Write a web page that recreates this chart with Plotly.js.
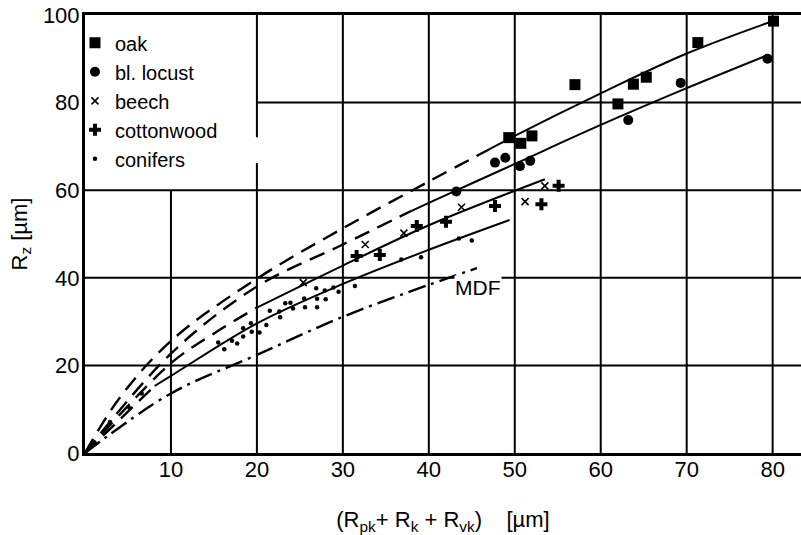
<!DOCTYPE html>
<html>
<head>
<meta charset="utf-8">
<script src="https://cdn.plot.ly/plotly-3.0.1.min.js"></script>
<style>html,body{margin:0;padding:0;background:#fff}#chart{width:801px;height:535px}</style>
</head>
<body>
<div id="chart"></div>
<script>
// ---- measured points ----
const oakX = [49.3, 50.7, 52.0, 57.0, 62.0, 63.8, 65.3, 71.3, 80.1];
const oakY = [72.0, 70.7, 72.4, 84.1, 79.7, 84.2, 85.8, 93.7, 98.6];

const locustX = [43.2, 47.7, 48.9, 50.6, 51.8, 63.2, 69.3, 79.4];
const locustY = [59.7, 66.3, 67.4, 65.5, 66.7, 76.0, 84.5, 90.0];

const beechX = [25.4, 32.6, 37.1, 43.8, 51.2, 53.5];
const beechY = [38.9, 47.6, 50.2, 56.1, 57.4, 61.0];

const cottonX = [31.6, 34.3, 38.6, 42.0, 47.7, 53.1, 55.1];
const cottonY = [45.0, 45.2, 51.8, 52.8, 56.4, 56.8, 61.0];

const conifX = [2.9, 5.2, 6.6, 15.5, 16.2, 17.1, 17.7, 18.4, 18.4, 19.3, 19.4, 20.3, 21.1, 21.5, 22.6, 22.7, 23.3, 23.9, 24.2, 25.5, 25.6, 26.9, 27.0, 27.0, 27.9, 28.0, 28.9, 29.5, 31.4, 36.8, 39.1, 43.5, 45.0];
const conifY = [7.1, 10.2, 13.6, 25.2, 23.7, 25.6, 25.0, 28.5, 26.6, 29.6, 27.7, 27.5, 29.2, 32.5, 32.3, 31.0, 34.2, 34.3, 33.0, 35.3, 33.3, 37.6, 35.2, 33.3, 37.1, 35.1, 37.8, 36.8, 38.1, 44.2, 44.7, 49.0, 48.5];

// ---- fitted curves ----
const oakFitDashX = [0, 4, 10, 20, 30, 40, 47];
const oakFitDashY = [0, 12.5, 25.6, 39.8, 51.3, 62.0, 69.3];
const oakFitX = [47, 50, 60, 70, 80];
const oakFitY = [69.3, 72.4, 82.1, 91.2, 98.6];

const locustFitDashX = [0, 10, 20, 30, 38];
const locustFitDashY = [0, 22.7, 38.0, 47.6, 55.3];
const locustFitX = [38, 40, 50, 60, 70, 79.5];
const locustFitY = [55.3, 57.1, 66.0, 74.9, 83.3, 90.9];

const bcFitDashX = [0, 10, 15, 20];
const bcFitDashY = [0, 20.5, 27.3, 33.2];
const bcFitX = [20, 30, 40, 53.5];
const bcFitY = [33.2, 42.8, 52.0, 62.5];

const conifFitDashX = [0, 8.1];
const conifFitDashY = [0, 15.3];
const conifFitX = [8.1, 10, 20, 30, 40, 49.4];
const conifFitY = [15.3, 17.6, 29.6, 38.6, 46.4, 53.2];

const mdfFitX = [0, 10, 20, 30, 40, 45.6];
const mdfFitY = [0, 13.6, 22.4, 31.1, 38.4, 42.2];

const mdfLabel = {text: 'MDF', x: 45.7, y: 37.9};

const xTicks = [10, 20, 30, 40, 50, 60, 70, 80];
const yTicks = [0, 20, 40, 60, 80, 100];
const names = ['oak', 'bl. locust', 'beech', 'cottonwood', 'conifers'];

const FONT = 'Liberation Sans, Arial, Helvetica, sans-serif';
const XMAX = 83.3;

function fit(x, y, dash, w) {
  return {x: x, y: y, mode: 'lines', showlegend: false, hoverinfo: 'skip',
    line: {color: '#000', width: w, dash: dash, shape: 'spline', smoothing: 1}};
}
const DASH = '16px,9px';
const traces = [
  fit(oakFitDashX, oakFitDashY, DASH, 2.4),
  fit(oakFitX, oakFitY, 'solid', 2),
  fit(locustFitDashX, locustFitDashY, DASH, 2.4),
  fit(locustFitX, locustFitY, 'solid', 2),
  fit(bcFitDashX, bcFitDashY, DASH, 2.4),
  fit(bcFitX, bcFitY, 'solid', 2),
  fit(conifFitDashX, conifFitDashY, DASH, 2.4),
  fit(conifFitX, conifFitY, 'solid', 2),
  fit(mdfFitX, mdfFitY, '18px,6px,3px,6px', 2.4),
  {x: oakX, y: oakY, name: names[0], mode: 'markers', marker: {symbol: 'square', size: 11, color: '#000'}},
  {x: locustX, y: locustY, name: names[1], mode: 'markers', marker: {symbol: 'circle', size: 10, color: '#000'}},
  {x: beechX, y: beechY, name: names[2], mode: 'markers', marker: {symbol: 'x-thin', size: 7, color: '#000', line: {color: '#000', width: 1.6}}},
  {x: cottonX, y: cottonY, name: names[3], mode: 'markers', marker: {symbol: 'cross', size: 10, color: '#000'}},
  {x: conifX, y: conifY, name: names[4], mode: 'markers', marker: {symbol: 'circle', size: 4.5, color: '#000'}}
];

// grid drawn as shapes (some lines are partially hidden behind the legend)
const shapes = [];
const gl = {color: '#000', width: 2};
xTicks.forEach(function (v) {
  if (v === 10) {
    shapes.push({type: 'line', layer: 'below', x0: v, x1: v, y0: 0, y1: 60, line: gl});
  } else if (v === 20) {
    shapes.push({type: 'line', layer: 'below', x0: v, x1: v, y0: 0, y1: 66.2, line: gl});
    shapes.push({type: 'line', layer: 'below', x0: v, x1: v, y0: 72.1, y1: 100, line: gl});
  } else {
    shapes.push({type: 'line', layer: 'below', x0: v, x1: v, y0: 0, y1: 100, line: gl});
  }
});
yTicks.filter(function (v) { return v > 0 && v < 100; }).forEach(function (v) {
  const x0 = v === 80 ? 20 : 0;
  shapes.push({type: 'line', layer: 'below', x0: x0, x1: XMAX, y0: v, y1: v, line: gl});
});

const layout = {
  width: 801, height: 535,
  margin: {l: 85, r: 0, t: 15, b: 82},
  paper_bgcolor: '#fff', plot_bgcolor: '#fff',
  font: {family: FONT, size: 22, color: '#000'},
  showlegend: true,
  legend: {x: -0.014, y: 0.981, xanchor: 'left', yanchor: 'top', bgcolor: 'rgba(0,0,0,0)',
    borderwidth: 0, font: {family: FONT, size: 20, color: '#000'}, tracegroupgap: 0},
  xaxis: {range: [0, XMAX], tickvals: xTicks, ticks: '', showgrid: false, zeroline: false,
    showline: true, linewidth: 3, linecolor: '#000', mirror: true, ticklabelstandoff: -5,
    tickfont: {family: FONT, size: 22},
    title: {text: '(R<sub>pk</sub>+ R<sub>k</sub> + R<sub>vk</sub>)&nbsp;&nbsp;&nbsp; [µm]', font: {family: FONT, size: 22}, standoff: 32}},
  yaxis: {range: [0, 100], tickvals: yTicks, ticks: '', showgrid: false, zeroline: false,
    showline: true, linewidth: 3, linecolor: '#000', ticklabelstandoff: -2,
    tickfont: {family: FONT, size: 22},
    title: {text: 'R<sub>z</sub> [µm]', font: {family: FONT, size: 22}, standoff: 10}},
  shapes: shapes,
  annotations: [{x: mdfLabel.x, y: mdfLabel.y, xref: 'x', yref: 'y', text: mdfLabel.text, showarrow: false,
    bgcolor: '#fff', font: {family: FONT, size: 21, color: '#000'}, borderpad: 0}]
};

Plotly.newPlot('chart', traces, layout, {displayModeBar: false, staticPlot: true});
</script>
</body>
</html>
